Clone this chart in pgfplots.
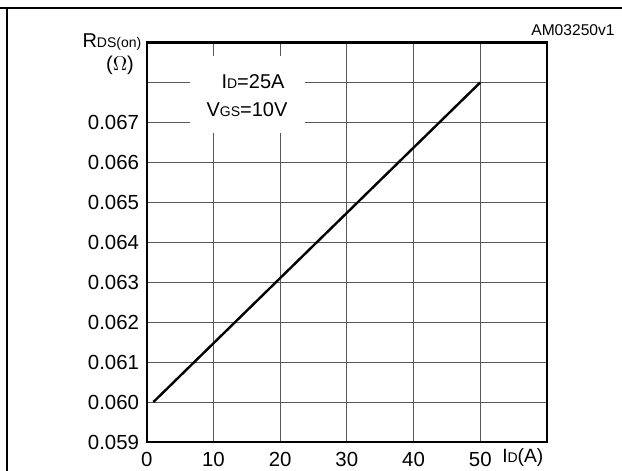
\documentclass[border=0pt]{standalone}
\usepackage{fontspec}
\setmainfont{Liberation Sans}
\usepackage{pgfplots}
\pgfplotsset{compat=1.18}
% smaller letters set on the baseline, as in datasheet symbols
\newcommand{\sm}[1]{{\fontsize{7}{8}\selectfont #1}}
\begin{document}
\begin{tikzpicture}
\useasboundingbox (-73.35pt,-14.5pt) rectangle (237.65pt,221pt);
% page frame
\draw[line width=1pt] (-73.35pt,216.75pt) -- (237.65pt,216.75pt);
\draw[line width=1pt] (-69.85pt,216.75pt) -- (-69.85pt,-14.5pt);
\begin{axis}[
  at={(0pt,0pt)}, anchor=south west,
  scale only axis, width=200.15pt, height=199.75pt,
  xmin=0, xmax=60, ymin=0.059, ymax=0.069,
  xtick={0,10,20,30,40,50,60},
  xticklabels={0,10,20,30,40,50,{}},
  ytick={0.059,0.060,0.061,0.062,0.063,0.064,0.065,0.066,0.067,0.068},
  yticklabels={0.059,0.060,0.061,0.062,0.063,0.064,0.065,0.066,0.067,{}},
  scaled y ticks=false, scaled x ticks=false,
  grid=major, major grid style={black!65, line width=0.5pt},
  major tick length=0pt,
  axis line style={line width=1.1pt},
  tick label style={font=\fontsize{10.2}{11}\selectfont},
  xticklabel style={yshift=-1.6pt},
  yticklabel style={xshift=-0.3pt},
  /pgf/number format/assume math mode=true,
  clip=false,
]
% white panel behind the test conditions
\fill[white] (axis cs:6.5,0.06674) rectangle (axis cs:23.7,0.06866);
\addplot[black, line width=1.2pt] coordinates {(1,0.060) (50,0.068)};
\end{axis}
\node[anchor=center, font=\fontsize{10}{11}\selectfont] at (53.15pt,180pt) {I\sm{D}=25A};
\node[anchor=center, font=\fontsize{10}{11}\selectfont] at (50.15pt,166pt) {V\sm{GS}=10V};
\node[anchor=east, inner sep=0pt, font=\fontsize{10}{11}\selectfont] at (-2.5pt,200.15pt) {R\sm{DS(on)}};
\node[anchor=center, inner sep=0pt, font=\fontsize{10}{11}\selectfont] at (-13.35pt,188.5pt) {($\Omega$)};
\node[anchor=east, inner sep=0pt, font=\fontsize{7.8}{9}\selectfont] at (234.15pt,206pt) {AM03250v1};
\node[anchor=west, inner sep=0pt, font=\fontsize{9.6}{10}\selectfont] at (177.6pt,-8pt) {I\sm{D}(A)};
\end{tikzpicture}
\end{document}
